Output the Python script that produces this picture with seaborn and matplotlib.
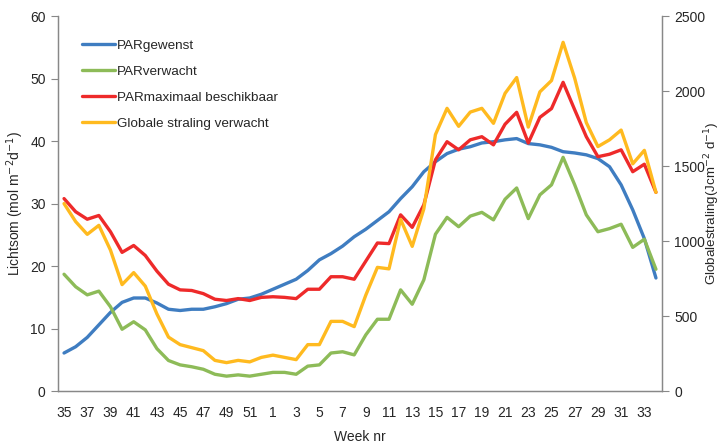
import pandas as pd
import matplotlib
matplotlib.use('Agg')
import matplotlib.pyplot as plt
from matplotlib.ticker import FixedLocator
import seaborn as sns

# Weeknummers (september t/m augustus)
weeks = list(range(35, 53)) + list(range(1, 35))

# Lichtsom (mol m-2 d-1)
par_gewenst = [6.1, 7.1, 8.6, 10.6, 12.6, 14.2, 14.9, 14.9, 14.1, 13.1, 12.9, 13.1, 13.1, 13.5, 14.0, 14.7, 14.9, 15.5,
               16.3, 17.1, 17.9, 19.3, 21.0, 22.0, 23.2, 24.7, 25.9, 27.3, 28.7, 30.8, 32.7, 35.1, 36.7, 38.0, 38.7,
               39.1, 39.7, 39.9, 40.2, 40.4, 39.6, 39.4, 39.0, 38.3, 38.1, 37.8, 37.2, 35.9, 33.0, 29.0, 24.4, 18.1]
par_verwacht = [18.7, 16.7, 15.4, 16.0, 13.5, 9.9, 11.1, 9.8, 6.8, 4.9, 4.2, 3.9, 3.5, 2.7, 2.4, 2.6, 2.4, 2.7,
                3.0, 3.0, 2.7, 4.0, 4.2, 6.1, 6.3, 5.8, 9.0, 11.5, 11.5, 16.2, 13.9, 17.8, 25.1, 27.8, 26.3,
                28.0, 28.6, 27.4, 30.7, 32.5, 27.6, 31.4, 33.0, 37.4, 33.0, 28.2, 25.5, 26.0, 26.7, 23.0, 24.3, 19.5]
par_maximaal = [30.8, 28.7, 27.5, 28.1, 25.5, 22.2, 23.3, 21.7, 19.2, 17.1, 16.2, 16.1, 15.6, 14.7, 14.5, 14.8, 14.5, 15.0,
                15.1, 15.0, 14.8, 16.3, 16.3, 18.3, 18.3, 17.9, 20.8, 23.7, 23.6, 28.2, 26.2, 29.8, 37.0, 39.9, 38.6,
                40.2, 40.7, 39.4, 42.7, 44.6, 39.7, 43.8, 45.2, 49.4, 45.0, 40.7, 37.5, 37.9, 38.6, 35.1, 36.3, 31.8]

# Globale straling (J cm-2 d-1), rechter as
globale_straling = [1250, 1130, 1045, 1105, 940, 710, 790, 700, 515, 360, 310, 290, 270, 205, 190, 205, 195, 225,
                    240, 225, 210, 310, 310, 465, 465, 430, 640, 825, 815, 1145, 965, 1215, 1710, 1885, 1765,
                    1860, 1885, 1785, 1985, 2090, 1760, 1995, 2070, 2325, 2085, 1790, 1630, 1675, 1740, 1515, 1605, 1325]

df = pd.DataFrame({
    'pos': range(len(weeks)),
    'week': weeks,
    'gewenst': par_gewenst,
    'verwacht': par_verwacht,
    'maximaal': par_maximaal,
    'straling': globale_straling,
})

sns.set_style('white')
plt.rcParams['font.family'] = ['Liberation Sans', 'DejaVu Sans']

fig, ax = plt.subplots(figsize=(7.28, 4.46), dpi=100)
fig.subplots_adjust(left=0.08, right=0.909, top=0.964, bottom=0.123)
ax2 = ax.twinx()

lw = 2.4
sns.lineplot(data=df, x='pos', y='gewenst', color='#3F7DC1', lw=lw, ax=ax, label='PARgewenst')
sns.lineplot(data=df, x='pos', y='verwacht', color='#8DBB58', lw=lw, ax=ax, label='PARverwacht')
sns.lineplot(data=df, x='pos', y='maximaal', color='#EE2A2A', lw=lw, ax=ax, label='PARmaximaal beschikbaar')
sns.lineplot(data=df, x='pos', y='straling', color='#FFBA1F', lw=lw, ax=ax2, label='Globale straling verwacht')

ax.set_ylim(0, 60)
ax2.set_ylim(0, 2500)
ax.set_xlim(-0.5, len(weeks) - 0.5)
ax.set_yticks(range(0, 61, 10))
ax2.set_yticks(range(0, 2501, 500))

# labels every second week, tick marks between categories
ax.set_xticks(range(0, len(weeks), 2))
ax.set_xticklabels([str(w) for w in weeks[::2]])
ax.xaxis.set_minor_locator(FixedLocator([i - 0.5 for i in range(len(weeks) + 1)]))
ax.tick_params(axis='x', which='major', length=0, pad=11, labelsize=10)
ax.tick_params(axis='x', which='minor', length=5, color='#888888', width=0.8)
ax.tick_params(axis='y', length=5, color='#888888', width=0.8, labelsize=10, left=True, pad=4)
ax2.tick_params(axis='y', length=5, color='#888888', width=0.8, labelsize=10, right=True, pad=4)

for a in (ax, ax2):
    a.spines['top'].set_visible(False)
    for s in ('left', 'right', 'bottom'):
        a.spines[s].set_color('#888888')
        a.spines[s].set_linewidth(0.9)

ax.set_xlabel('Week nr', fontsize=10, labelpad=7)
ax.set_ylabel('Lichtsom (mol m$^{-2}$d$^{-1}$)', fontsize=10, labelpad=3)
ax2.set_ylabel('Globalestraling(Jcm$^{-2}$ d$^{-1}$)', fontsize=9.6)
ax2.yaxis.set_label_coords(1.068, 0.5)

h1, l1 = ax.get_legend_handles_labels()
h2, l2 = ax2.get_legend_handles_labels()
if ax.get_legend():
    ax.get_legend().remove()
ax2.legend(h1 + h2, l1 + l2, loc='upper left', bbox_to_anchor=(0.02, 0.97), frameon=False,
           fontsize=9.7, labelspacing=1.0, handlelength=2.4, handletextpad=0.15)

fig.savefig('out.png', dpi=100)
